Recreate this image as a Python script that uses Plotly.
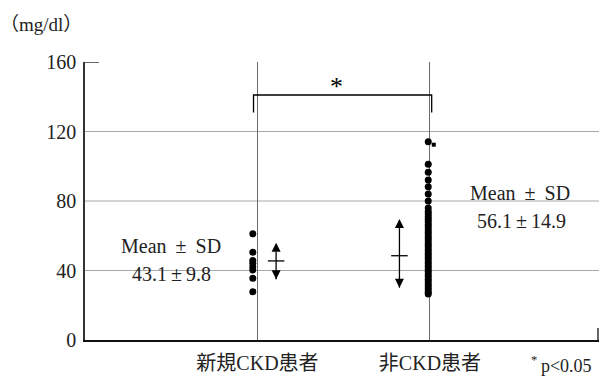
import plotly.graph_objects as go

# ---------------- data ----------------
categories = ["新規CKD患者", "非CKD患者"]
cat_pos = [1, 2]

new_ckd_values = [61.1, 50.5, 45.7, 44.2, 42.2, 40.3, 35.5, 27.8]
non_ckd_values = [114.1, 101.1, 96.5, 92.1, 88.2, 84.0, 80.0,
                  76.0, 74.0, 72.5, 71.0, 69.5, 68.0, 66.5, 65.0, 63.5, 62.0,
                  60.5, 59.0, 57.5, 56.0, 54.5, 53.0, 51.5, 50.0, 48.5, 47.0,
                  45.5, 44.0, 42.5, 41.0, 39.5, 38.0, 36.5, 35.0, 33.5, 32.0,
                  30.5, 29.0, 27.5, 26.5]
non_ckd_stub = [112.4]

arrow_mid = [45.5, 48.5]
arrow_top = [56.0, 69.6]
arrow_bottom = [34.9, 30.1]

stat_header = "Mean\u2009 ± \u2009SD"
stat_labels = ["43.1\u2009±\u20099.8", "56.1\u2009±\u200914.9"]

y_ticks = [0, 40, 80, 120, 160]
grid_vals = [40, 80, 120]
bracket_low, bracket_high = 131, 141
sig_mark = "*"
p_note = "<sup>*</sup>\u2009p&lt;0.05"
unit_label = "（mg/dl）"

# ---------------- styling ----------------
SERIF = "Liberation Serif, Noto Sans CJK JP"
TXT = "#222222"
W, H = 600, 378
L, R, T, B = 85, 1, 62, 38
PW, PH = W - L - R, H - T - B
XR = [0, 2.98]

dot_off = [-0.027, -0.010]
arrow_x = [1.108, 1.823]
tick_half = 0.048

fig = go.Figure()

# dots
fig.add_trace(go.Scatter(x=[cat_pos[0] + dot_off[0]] * len(new_ckd_values), y=new_ckd_values,
                         mode="markers", marker=dict(color="black", size=7), hoverinfo="y"))
fig.add_trace(go.Scatter(x=[cat_pos[1] + dot_off[1]] * len(non_ckd_values), y=non_ckd_values,
                         mode="markers", marker=dict(color="black", size=7), hoverinfo="y"))
fig.add_trace(go.Scatter(x=[cat_pos[1] + 0.022] * len(non_ckd_stub), y=non_ckd_stub,
                         mode="markers", marker=dict(color="black", size=4, symbol="square"),
                         hoverinfo="skip"))

# mean ± SD arrows
for i in range(2):
    fig.add_trace(go.Scatter(x=[arrow_x[i], arrow_x[i]], y=[arrow_bottom[i], arrow_top[i]],
                             mode="lines+markers",
                             line=dict(color="black", width=1.3),
                             marker=dict(color="black", size=9, symbol=["arrow-down", "arrow-up"]),
                             hoverinfo="skip"))
    fig.add_trace(go.Scatter(x=[arrow_x[i] - tick_half, arrow_x[i] + tick_half],
                             y=[arrow_mid[i], arrow_mid[i]], mode="lines",
                             line=dict(color="black", width=1.3), hoverinfo="skip"))

# significance bracket
fig.add_trace(go.Scatter(x=[cat_pos[0] - 0.023, cat_pos[0] - 0.023, cat_pos[1] + 0.01, cat_pos[1] + 0.01],
                         y=[bracket_low, bracket_high, bracket_high, bracket_low],
                         mode="lines", line=dict(color="black", width=1.3), hoverinfo="skip"))

shapes = []
for g in grid_vals:
    shapes.append(dict(type="line", xref="paper", yref="y", x0=0, x1=1, y0=g, y1=g,
                       line=dict(color="#a8a8a8", width=1.2), layer="below"))
# small tick at top of y axis
shapes.append(dict(type="line", xref="paper", yref="y", x0=0, x1=14 / PW, y0=160, y1=160,
                   line=dict(color="#333333", width=1.5)))
# right-end tick of x axis
shapes.append(dict(type="line", xref="paper", yref="paper", x0=0.998, x1=0.998, y0=0, y1=12 / PH,
                   line=dict(color="#333333", width=1.5)))

font_txt = dict(family=SERIF, size=20, color=TXT)
annotations = [
    dict(text=stat_header, x=0.501, y=54.1, xref="x", yref="y", showarrow=False, font=font_txt),
    dict(text=stat_labels[0], x=0.504, y=38.0, xref="x", yref="y", showarrow=False, font=font_txt),
    dict(text=stat_header, x=2.522, y=84.6, xref="x", yref="y", showarrow=False, font=font_txt),
    dict(text=stat_labels[1], x=2.530, y=68.5, xref="x", yref="y", showarrow=False, font=font_txt),
    dict(text=sig_mark, x=1.458, y=146.0, xref="x", yref="y", showarrow=False,
         font=dict(family=SERIF, size=26, color="black")),
    dict(text=p_note, x=0.99, y=-0.088, xref="paper", yref="paper", xanchor="right", yanchor="middle",
         showarrow=False, font=dict(family=SERIF, size=18, color=TXT)),
    dict(text=unit_label, x=-(L + 2) / PW, y=1 + (T - 25) / PH,
         xref="paper", yref="paper", xanchor="left", yanchor="middle", showarrow=False,
         font=dict(family=SERIF, size=19, color=TXT)),
]

fig.update_layout(
    width=W, height=H,
    margin=dict(l=L, r=R, t=T, b=B),
    paper_bgcolor="white", plot_bgcolor="white",
    showlegend=False,
    shapes=shapes, annotations=annotations,
    xaxis=dict(range=XR, tickmode="array", tickvals=cat_pos, ticktext=categories,
               showgrid=True, gridcolor="#6a6a6a", gridwidth=1.3,
               showline=True, linecolor="#111111", linewidth=1.5,
               zeroline=False, ticks="", ticklabelstandoff=4,
               tickfont=dict(family=SERIF, size=20, color=TXT), fixedrange=True),
    yaxis=dict(range=[0, 160], tickmode="array", tickvals=y_ticks,
               showgrid=False, showline=True, linecolor="#333333", linewidth=1.5,
               zeroline=False, ticks="", ticklabelstandoff=3,
               tickfont=dict(family="Liberation Serif", size=20, color=TXT), fixedrange=True),
)

fig.write_html("out.html", config={"displayModeBar": False},
               post_script="document.body.style.margin='0';")
